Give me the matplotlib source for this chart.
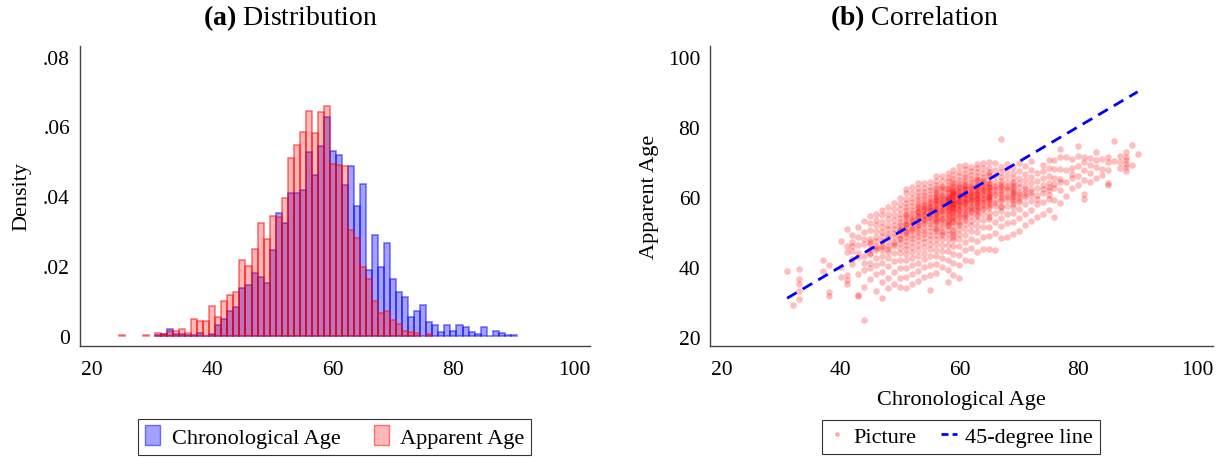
import numpy as np
import matplotlib.pyplot as plt
from matplotlib.patches import Patch
from matplotlib.lines import Line2D

plt.rcParams['font.family'] = ['Liberation Serif', 'DejaVu Serif']
plt.rcParams['mathtext.fontset'] = 'custom'
plt.rcParams['mathtext.bf'] = 'Liberation Serif:bold'
plt.rcParams['mathtext.rm'] = 'Liberation Serif'

# (a) histogram densities, one bar per year of age (width 1)
chrono_bins = [31, 32, 33, 34, 35, 36, 37, 38, 39, 40, 41, 42, 43, 44, 45, 46, 47, 48, 49, 50,
               51, 52, 53, 54, 55, 56, 57, 58, 59, 60, 61, 62, 63, 64, 65, 66, 67, 68, 69, 70,
               71, 72, 73, 74, 75, 76, 77, 78, 79, 80, 81, 82, 83, 84, 85, 86, 87, 88, 89, 90]
chrono_density = [.0003, .0005, .0019, .0005, .0005, .0003, .0003, .0008, 0, .0005,
                  .0031, .0049, .0071, .0082, .0136, .0145, .0179, .0168, .0152, .0246,
                  .0353, .0323, .0408, .0410, .0417, .0528, .0460, .0544, .0628, .0530,
                  .0517, .0433, .0488, .0373, .0434, .0189, .0290, .0196, .0266, .0162,
                  .0125, .0111, .0054, .0071, .0089, .0039, .0031, .0011, .0031, .0014,
                  .0031, .0025, .0011, .0005, .0025, 0, .0014, .0008, .0003, .0003]

apparent_bins = [25, 29, 31, 32, 33, 34, 35, 36, 37, 38, 39, 40, 41, 42, 43, 44, 45, 46, 47, 48,
                 49, 50, 51, 52, 53, 54, 55, 56, 57, 58, 59, 60, 61, 62, 63, 64, 65, 66, 67, 68,
                 69, 70, 71, 72, 73, 74, 76]
apparent_density = [.0003, .0003, .0008, .0004, .0014, .0014, .0018, .0008, .0048, .0042,
                    .0042, .0085, .0055, .0099, .0118, .0126, .0216, .0199, .0250, .0324,
                    .0276, .0343, .0340, .0396, .0510, .0548, .0585, .0645, .0582, .0642,
                    .0659, .0493, .0490, .0488, .0303, .0279, .0196, .0162, .0101, .0066,
                    .0071, .0044, .0035, .0014, .0011, .0008, .0005]

density_ticks = [0, .02, .04, .06, .08]
density_labels = ['0', '.02', '.04', '.06', '.08']
age_ticks = [20, 40, 60, 80, 100]

# (b) scatter: apparent age of each picture, grouped by chronological age
pic_ages = [31, 32, 33, 37, 38, 40, 41, 42, 43, 44, 45, 46, 47, 48, 49, 50,
            51, 52, 53, 54, 55, 56, 57, 58, 59, 60, 61, 62, 63, 64, 65, 66, 67, 68, 69, 70,
            71, 72, 73, 74, 75, 76, 77, 78, 79, 80, 81, 82, 83, 84, 85, 86, 87, 88, 89, 90]
pic_apparent = [
    [38.9],
    [29.0],
    [39.4, 36.6, 35.0, 33.1, 30.7],
    [41.8, 38.9],
    [40.6, 32.9, 31.6],
    [39.9, 37.2, 47.5],
    [36.1, 37.5, 35.1, 50.9, 45.8, 44.2],
    [42.3, 44.5, 46.0, 47.0, 49.2, 40.8],
    [31.5, 31.8, 38.0, 44.0, 48.5, 46.2, 42.9, 51.3],
    [24.7, 34.2, 39.0, 43.0, 46.5, 50.0, 47.8, 41.2, 53.0],
    [36.5, 39.5, 41.0, 43.5, 45.0, 46.5, 48.0, 50.5, 52.5, 44.0, 47.2, 54.6],
    [33.2, 37.8, 40.5, 42.6, 44.8, 46.0, 47.3, 48.6, 50.1, 51.8, 53.5, 45.4, 55.2],
    [31.0, 35.5, 38.4, 41.2, 43.0, 44.9, 46.2, 47.5, 48.8, 49.9, 51.4, 52.9, 54.8, 56.3, 45.7],
    [34.0, 36.9, 40.1, 42.5, 44.3, 46.0, 47.4, 48.6, 49.5, 50.7, 52.0, 53.6, 55.1, 57.0, 45.2],
    [35.2, 38.6, 41.7, 43.9, 45.8, 47.2, 48.5, 49.6, 50.8, 52.0, 53.3, 54.9, 56.4, 58.1, 46.6],
    [34.1, 36.8, 39.5, 41.9, 43.8, 45.3, 46.7, 47.9, 49.0, 50.1, 51.0, 51.9, 52.8, 53.9, 55.0,
     56.4, 57.8, 59.6, 48.3, 50.6],
    [33.8, 37.0, 39.6, 41.8, 43.5, 45.0, 46.3, 47.4, 48.4, 49.3, 50.2, 51.0, 51.8, 52.6, 53.4,
     54.3, 55.2, 56.1, 57.1, 58.2, 59.5, 61.0, 62.3, 49.8, 52.2, 54.7],
    [35.0, 37.9, 40.4, 42.5, 44.2, 45.7, 47.0, 48.2, 49.2, 50.2, 51.1, 52.0, 52.8, 53.7, 54.5,
     55.4, 56.3, 57.3, 58.4, 59.7, 61.2, 62.8, 50.7, 53.3],
    [35.9, 38.8, 41.2, 43.2, 44.9, 46.3, 47.6, 48.7, 49.7, 50.6, 51.5, 52.3, 53.1, 53.9, 54.6,
     55.3, 56.0, 56.8, 57.6, 58.4, 59.3, 60.3, 61.4, 62.6, 63.9, 51.9, 54.3, 55.7, 57.2],
    [37.0, 39.8, 42.1, 44.0, 45.6, 47.0, 48.2, 49.3, 50.3, 51.2, 52.1, 52.9, 53.7, 54.4, 55.1,
     55.8, 56.5, 57.2, 58.0, 58.8, 59.6, 60.5, 61.5, 62.6, 63.8, 53.3, 54.8, 56.2, 57.6],
    [33.4, 37.5, 40.6, 43.0, 45.0, 46.6, 48.0, 49.2, 50.3, 51.3, 52.2, 53.1, 53.9, 54.7, 55.4,
     56.1, 56.8, 57.5, 58.3, 59.1, 59.9, 60.8, 61.8, 62.9, 64.1, 54.1, 55.8, 57.1, 58.6],
    [38.2, 40.9, 43.1, 44.9, 46.5, 47.9, 49.1, 50.2, 51.2, 52.1, 52.9, 53.7, 54.4, 55.1, 55.7,
     56.3, 56.9, 57.5, 58.1, 58.7, 59.3, 60.0, 60.7, 61.5, 62.4, 63.4, 64.6, 65.9, 55.4, 56.6,
     57.8, 59.0, 54.0, 53.2, 60.3, 50.8, 62.0],
    [39.9, 42.5, 44.6, 46.3, 47.8, 49.1, 50.3, 51.3, 52.3, 53.2, 54.0, 54.8, 55.5, 56.2, 56.9,
     57.6, 58.3, 59.0, 59.7, 60.5, 61.3, 62.2, 63.2, 64.4, 65.8, 55.9, 57.3, 58.6, 53.6, 60.1,
     49.7, 62.8],
    [35.6, 39.1, 42.0, 44.4, 46.3, 47.9, 49.3, 50.5, 51.6, 52.6, 53.5, 54.3, 55.1, 55.8, 56.5,
     57.2, 57.8, 58.4, 59.0, 59.6, 60.3, 61.0, 61.7, 62.5, 63.4, 64.4, 65.5, 66.8, 56.1, 57.5,
     58.8, 60.0, 54.7, 62.1, 52.0, 53.0, 58.1, 59.3],
    [37.7, 41.0, 43.7, 45.9, 47.7, 49.2, 50.5, 51.7, 52.7, 53.6, 54.5, 55.3, 56.0, 56.7, 57.4,
     58.0, 58.6, 59.2, 59.8, 60.4, 61.0, 61.7, 62.4, 63.2, 64.1, 65.1, 66.3, 67.7, 57.0, 58.3,
     59.5, 60.7, 55.6, 62.0, 53.2, 56.4, 57.7, 58.9, 60.1, 61.4, 54.1, 63.7, 50.0, 48.4],
    [36.8, 40.4, 43.4, 45.8, 47.8, 49.4, 50.8, 52.0, 53.1, 54.1, 55.0, 55.8, 56.6, 57.3, 58.0,
     58.6, 59.2, 59.8, 60.4, 61.0, 61.7, 62.4, 63.1, 63.9, 64.8, 65.9, 67.2, 68.9, 57.6, 58.9,
     60.1, 61.3, 56.2, 62.7, 54.6, 59.5, 52.5],
    [42.0, 44.9, 47.2, 49.1, 50.7, 52.1, 53.3, 54.4, 55.4, 56.3, 57.1, 57.9, 58.6, 59.3, 60.0,
     60.6, 61.2, 61.8, 62.5, 63.2, 63.9, 64.7, 65.6, 66.6, 67.8, 69.2, 58.2, 59.6, 60.9, 62.1,
     56.7, 63.5, 55.0, 58.9, 61.5, 53.8],
    [41.5, 45.3, 48.0, 50.1, 51.8, 53.2, 54.5, 55.6, 56.6, 57.5, 58.3, 59.1, 59.8, 60.5, 61.2,
     61.9, 62.6, 63.4, 64.2, 65.1, 66.1, 67.3, 68.4, 58.7, 60.1, 61.5, 57.1, 62.9, 55.9, 59.5],
    [44.2, 47.4, 49.8, 51.7, 53.3, 54.6, 55.8, 56.8, 57.7, 58.5, 59.3, 60.0, 60.7, 61.4, 62.1,
     62.8, 63.5, 64.3, 65.1, 66.0, 67.0, 68.1, 69.3, 59.0, 60.4, 61.8, 57.3, 63.1, 56.2, 59.7,
     61.1, 64.7, 58.1, 55.2],
    [45.1, 48.6, 51.3, 53.4, 55.1, 56.5, 57.7, 58.8, 59.7, 60.6, 61.4, 62.2, 63.0, 63.8, 64.7,
     65.7, 66.8, 68.1, 69.6, 59.3, 60.9, 62.6, 58.2, 61.8, 56.9, 64.2],
    [45.1, 48.9, 51.5, 53.6, 55.3, 56.7, 57.9, 59.0, 59.9, 60.8, 61.6, 62.4, 63.2, 64.0, 64.9,
     65.9, 67.0, 68.3, 69.8, 59.5, 61.2, 62.9, 58.4, 60.3, 57.3, 63.6, 54.3, 66.4, 60.0, 61.9],
    [44.7, 49.6, 52.9, 55.4, 57.4, 59.1, 60.5, 61.8, 63.0, 64.3, 65.8, 67.6, 69.7, 58.3, 60.9, 62.4],
    [48.2, 51.6, 54.0, 55.9, 57.5, 58.8, 59.9, 60.9, 61.8, 62.7, 63.6, 64.6, 65.7, 67.0, 68.6,
     76.6, 59.4, 61.3, 63.1, 57.0],
    [48.5, 52.4, 55.2, 57.4, 59.1, 60.5, 61.8, 63.0, 64.3, 65.8, 67.6, 69.5, 60.0, 62.4],
    [49.3, 52.8, 55.3, 57.2, 58.7, 59.9, 61.0, 62.0, 63.0, 64.1, 65.3, 66.7, 68.4, 60.4, 61.5,
     59.3, 62.6, 57.9, 63.7],
    [50.2, 53.8, 56.4, 58.4, 60.0, 61.4, 62.7, 64.0, 65.5, 67.3, 69.6, 60.7, 59.2],
    [51.8, 55.2, 57.8, 59.8, 61.5, 63.1, 64.7, 66.5, 68.7, 60.6, 62.3],
    [53.1, 56.3, 58.7, 60.6, 62.3, 63.9, 65.6, 67.7, 70.1, 61.5],
    [54.2, 57.9, 60.5, 62.6, 64.6, 66.8, 59.4],
    [55.0, 58.6, 61.2, 63.3, 65.3, 67.5, 69.1, 62.1],
    [56.3, 59.4, 61.8, 63.9, 65.9, 68.2, 70.4, 62.8, 60.6],
    [54.2, 59.0, 62.5, 65.3, 67.9, 70.6, 63.7],
    [58.3, 62.0, 65.0, 67.8, 71.4, 73.7, 64.1],
    [60.2, 64.3, 67.7, 71.5],
    [62.4, 65.4, 68.1, 70.8, 66.5],
    [63.3, 65.8, 68.7, 71.6, 74.4],
    [59.5, 60.7, 64.9, 67.7, 70.0, 71.5],
    [64.2, 66.8, 69.1, 71.0],
    [65.3, 68.4, 70.4, 72.8],
    [66.2, 68.0, 70.8],
    [63.4, 64.0, 67.6, 69.9, 71.3],
    [75.8, 70.2],
    [68.3, 69.9, 71.6],
    [67.5, 68.5, 69.4, 70.6, 71.3, 72.9],
    [69.0, 74.9],
    [72.3],
]

pic_x = np.concatenate([[a] * len(v) for a, v in zip(pic_ages, pic_apparent)])
pic_y = np.concatenate(pic_apparent)

fig = plt.figure(figsize=(12.26, 4.6), dpi=100)
ax1 = fig.add_axes([0.065, 0.246, 0.416, 0.652])
ax2 = fig.add_axes([0.579, 0.246, 0.410, 0.652])

blue_fill = (0, 0, 1, 0.36)
blue_edge = (0, 0, 1, 0.5)
red_fill = (1, 0, 0, 0.28)
red_edge = (1, 0, 0, 0.5)

ax1.bar(chrono_bins, chrono_density, width=1, color=blue_fill, edgecolor=blue_edge, linewidth=1.2)
ax1.bar(apparent_bins, apparent_density, width=1, color=red_fill, edgecolor=red_edge, linewidth=1.2)
ax1.set_xlim(18, 102.6)
ax1.set_ylim(-0.0029, 0.0831)
ax1.set_yticks(density_ticks)
ax1.set_yticklabels(density_labels)
ax1.set_xticks(age_ticks)
ax1.set_ylabel('Density', fontsize=16, labelpad=8)

ax2.scatter(pic_x, pic_y, s=22, color='red', alpha=0.26, linewidths=0)
line_x = [min(pic_ages), max(pic_ages)]
ax2.plot(line_x, line_x, color='blue', linestyle=(0, (4, 2.5)), linewidth=2)
ax2.set_xlim(18, 102.6)
ax2.set_ylim(17.4, 103.1)
ax2.set_xticks(age_ticks)
ax2.set_yticks(age_ticks)
ax2.set_xlabel('Chronological Age', fontsize=16, labelpad=8)
ax2.set_ylabel('Apparent Age', fontsize=16, labelpad=6)

for ax in (ax1, ax2):
    for side in ('top', 'right'):
        ax.spines[side].set_visible(False)
    for side in ('left', 'bottom'):
        ax.spines[side].set_color('#444444')
        ax.spines[side].set_linewidth(1)
    ax.tick_params(length=0, labelsize=15.5)
    ax.tick_params(axis='x', pad=10)
    ax.tick_params(axis='y', pad=7)

fig.text(0.237, 0.96, r'$\mathbf{(a)}$ Distribution', fontsize=20, ha='center', va='center')
fig.text(0.746, 0.96, r'$\mathbf{(b)}$ Correlation', fontsize=20, ha='center', va='center')

h1 = [Patch(facecolor=blue_fill, edgecolor=blue_edge), Patch(facecolor=red_fill, edgecolor=red_edge)]
leg1 = ax1.legend(h1, ['Chronological Age', 'Apparent Age'], loc='center', bbox_to_anchor=(0.5, -0.303),
                  ncol=2, fontsize=16, frameon=True, fancybox=False, edgecolor='black',
                  handlelength=0.7, handleheight=1.0, handletextpad=0.5, columnspacing=1.5,
                  borderpad=0.3)
leg1.get_frame().set_linewidth(0.8)

h2 = [Line2D([], [], marker='o', color='red', alpha=0.25, linestyle='none', markersize=2.5),
      Line2D([], [], color='blue', linestyle=(0, (2.5, 1.5)), linewidth=2)]
leg2 = ax2.legend(h2, ['Picture', '45-degree line'], loc='center', bbox_to_anchor=(0.5, -0.303),
                  ncol=2, fontsize=16, frameon=True, fancybox=False, edgecolor='black',
                  handlelength=0.7, handletextpad=0.4, columnspacing=1.1, borderpad=0.3)
leg2.get_frame().set_linewidth(0.8)

fig.savefig('out.png', dpi=100)
